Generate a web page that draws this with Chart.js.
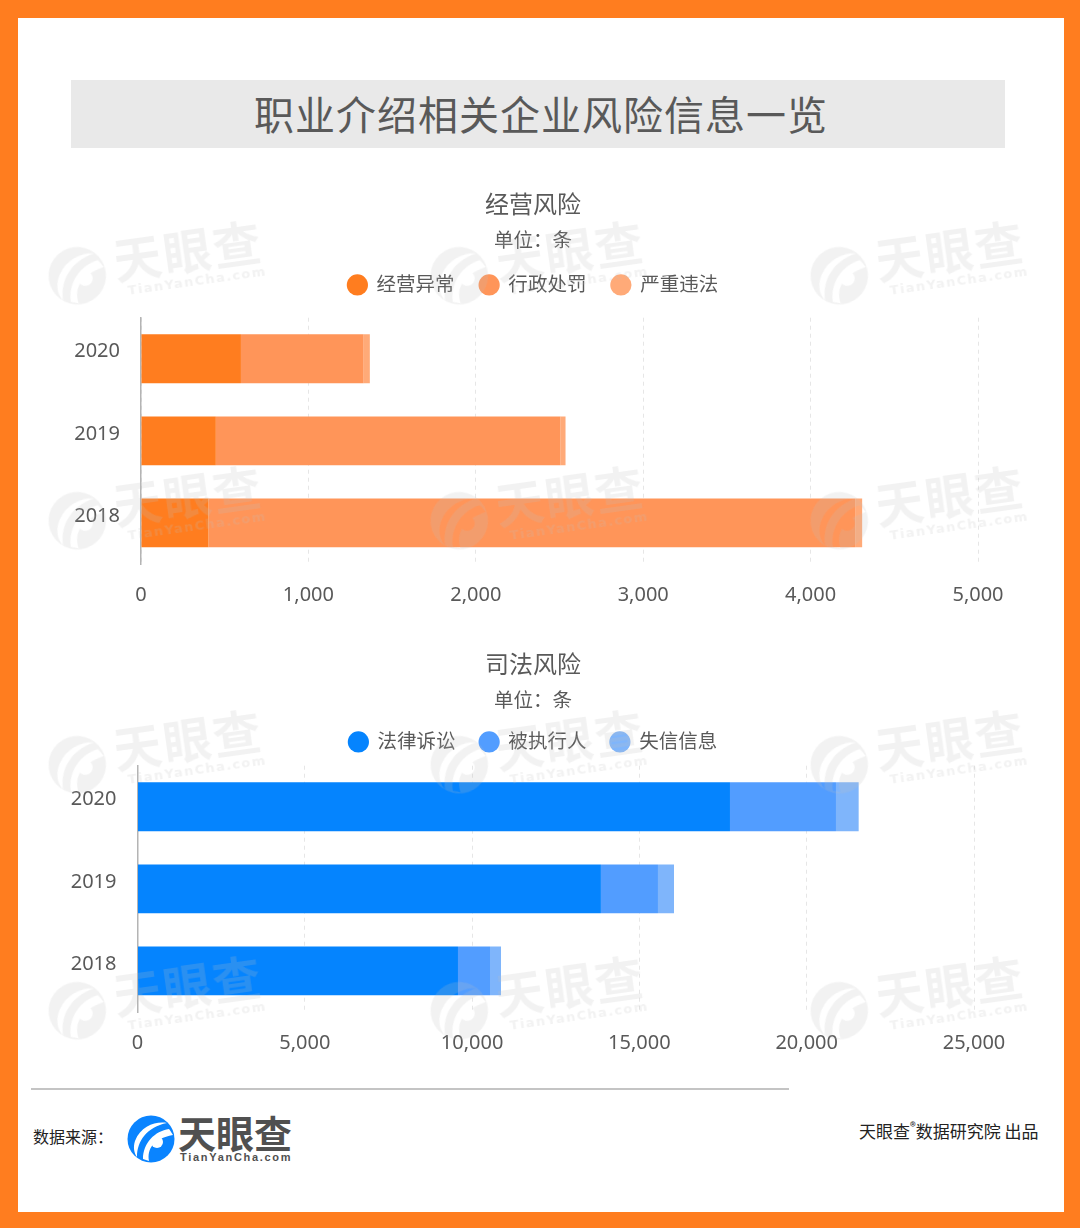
<!DOCTYPE html>
<html lang="zh-CN"><head><meta charset="utf-8">
<script src="https://cdn.jsdelivr.net/npm/chart.js@4"></script>
<style>
html,body{margin:0;padding:0;background:#fff}
body{width:1080px;height:1228px;position:relative;overflow:hidden;font-family:"Noto Sans","Noto Sans CJK SC",sans-serif}
#frame{position:absolute;left:0;top:0;width:1046px;height:1194px;border:18px solid #ff7d1f;border-right-width:16px;border-bottom-width:16px;background:#fff;box-sizing:content-box}
#banner{position:absolute;left:71px;top:80px;width:934px;height:68px;background:#e9e9e9;color:#595959;font:400 40px/66px "Noto Sans CJK SC";text-align:center;letter-spacing:1px;text-indent:6px}
canvas{position:absolute;left:18px}
#c1{top:180px}#c2{top:640px}
.wm{position:absolute;pointer-events:none;transform:rotate(-8deg);transform-origin:left top;color:rgba(190,190,190,.2);width:240px}
.wm b{position:absolute;left:66px;top:0;font:700 48px/56px "Noto Sans CJK SC";white-space:nowrap;letter-spacing:2px}
.wm i{position:absolute;left:76px;top:54px;font:700 13px/16px "DejaVu Sans";letter-spacing:1.4px;white-space:nowrap;font-style:normal}
.wm svg{position:absolute;left:-2px;top:10px}
#rule{position:absolute;left:31px;top:1088px;width:758px;height:2px;background:#c4c4c4}
.foot{position:absolute;white-space:nowrap;color:#222}
#src{left:33px;top:1125px;font:400 16px/22px "Noto Sans CJK SC"}
#by{left:859px;top:1120px;font:400 17px/22px "Noto Sans CJK SC"}
#logo{position:absolute;left:127px;top:1115px}
#lg1{left:178px;top:1109px;font:700 38px/46px "Noto Sans CJK SC";color:#505050}
#lg2{left:180px;top:1150px;font:700 11px/14px "Liberation Sans";letter-spacing:1.7px;color:#505050}
</style></head><body>
<div id="frame"></div>
<div id="banner">职业介绍相关企业风险信息一览</div>
<canvas id="c1" width="1030" height="440"></canvas>
<canvas id="c2" width="1030" height="428"></canvas>
<div id="rule"></div>
<div class="foot" id="src">数据来源&#xFF1A;</div>
<svg id="logo" width="48" height="48" viewBox="0 0 48 48"><circle cx="24" cy="24" r="23.5" fill="#0a84ff"/><path d="M10 42C10 26 20 12 40 8C30 6 14 10 8 26C6 32 7 38 10 42Z" fill="#fff"/><path d="M22 46C20 34 26 24 46 20C44 17 43 15 42 14C28 16 16 28 16 44Z" fill="#fff"/><circle cx="30" cy="27" r="6" fill="#fff"/></svg>
<div class="foot" id="lg1">天眼查</div>
<div class="foot" id="lg2">TianYanCha.com</div>
<div class="foot" id="by">天眼查<sup style="font-size:12px;line-height:0">®</sup>数据研究院 出品</div>
<svg width="0" height="0" style="position:absolute"><defs><mask id="swoosh"><rect width="48" height="48" fill="#fff"/><path d="M10 42C10 26 20 12 40 8C30 6 14 10 8 26C6 32 7 38 10 42Z" fill="#000"/><path d="M22 46C20 34 26 24 46 20C44 17 43 15 42 14C28 16 16 28 16 44Z" fill="#000"/><circle cx="30" cy="27" r="6" fill="#000"/></mask></defs></svg>
<script>
const years = ['2020', '2019', '2018'];
const opNames = ['经营异常', '行政处罚', '严重违法'];
const opAbnormal = [597, 447, 403];
const opPenalty = [733, 2059, 3863];
const opIllegal = [37, 30, 42];
const legalNames = ['法律诉讼', '被执行人', '失信信息'];
const legalSuits = [17707, 13850, 9578];
const legalExecuted = [3168, 1705, 957];
const legalDishonest = [678, 479, 329];
const unitLabel = '单位\uFF1A条';
const orange = ['#ff7d1f', '#ff9559', '#ffaa78'];
const blue = ['#0584fe', '#529dff', '#7fb5fb'];
const FONT = '"Noto Sans","Noto Sans CJK SC",sans-serif';
const TXT = '#595959';

function build(id, title, names, series, colors, xMax, step, cfg) {
  const scales = {
    x: { stacked: true, min: 0, max: xMax, afterFit: s => { s.height = 56; },
      ticks: { stepSize: step, color: TXT, font: { family: FONT, size: 20 }, padding: 19, maxRotation: 0 },
      grid: { color: '#e6e6e6', drawTicks: false, lineWidth: 1 },
      border: { display: false, dash: [4, 4] } },
    y: { stacked: true, afterFit: s => { s.width = cfg.yWidth; },
      ticks: { color: TXT, font: { family: FONT, size: 20 }, padding: 21, labelOffset: -7 },
      grid: { display: false, drawTicks: false },
      border: { display: true, color: '#b4b4b4', width: 1.5 } },
    spacerRight: { axis: 'y', position: 'right', type: 'category', labels: [''], afterFit: s => { s.width = cfg.rightWidth; },
      ticks: { display: false }, grid: { display: false, drawTicks: false }, border: { display: false } },
    spacerTop: { axis: 'x', position: 'top', type: 'linear', min: 0, max: 1, afterFit: s => { s.height = cfg.topGap; },
      ticks: { display: false }, grid: { display: false, drawTicks: false }, border: { display: false } }
  };
  new Chart(document.getElementById(id), {
    type: 'bar',
    data: { labels: years, datasets: series.map((d, i) => ({
      label: names[i], data: d, backgroundColor: colors[i], borderWidth: 0,
      categoryPercentage: 0.6, barPercentage: 0.99 })) },
    options: {
      indexAxis: 'y', responsive: false, animation: false, devicePixelRatio: 1,
      plugins: {
        tooltip: { enabled: false },
        title: { display: true, text: title, color: TXT, font: { family: FONT, size: 24, weight: 'normal' }, padding: { top: 12, bottom: 9 } },
        subtitle: { display: true, text: unitLabel, color: TXT, font: { family: FONT, size: 19.5, weight: 'normal' }, padding: { top: 0, bottom: cfg.subBottom } },
        legend: { position: 'top', labels: { color: TXT, font: { family: FONT, size: 19.5 }, usePointStyle: true, pointStyle: 'circle', boxWidth: 19, boxHeight: 15, padding: cfg.legendPad } }
      },
      scales
    }
  });
}
build('c1', '经营风险', opNames, [opAbnormal, opPenalty, opIllegal], orange, 5000, 1000, { yWidth: 123, rightWidth: 70, subBottom: -3, legendPad: 25, topGap: 13 });
build('c2', '司法风险', legalNames, [legalSuits, legalExecuted, legalDishonest], blue, 25000, 5000, { yWidth: 119.5, rightWidth: 74, subBottom: -5, legendPad: 24, topGap: 4 });

const wmCols = [44, 426, 806];
const wmRows = [240, 485, 729, 975];
wmRows.forEach(r => wmCols.forEach(c => {
  const d = document.createElement('div');
  d.className = 'wm'; d.style.left = c + 'px'; d.style.top = r + 'px';
  d.innerHTML = '<svg width="60" height="60" viewBox="0 0 48 48"><circle cx="24" cy="24" r="23" fill="currentColor" mask="url(#swoosh)"/></svg><b>天眼查</b><i>TianYanCha.com</i>';
  document.body.appendChild(d);
}));
</script>
</body></html>
